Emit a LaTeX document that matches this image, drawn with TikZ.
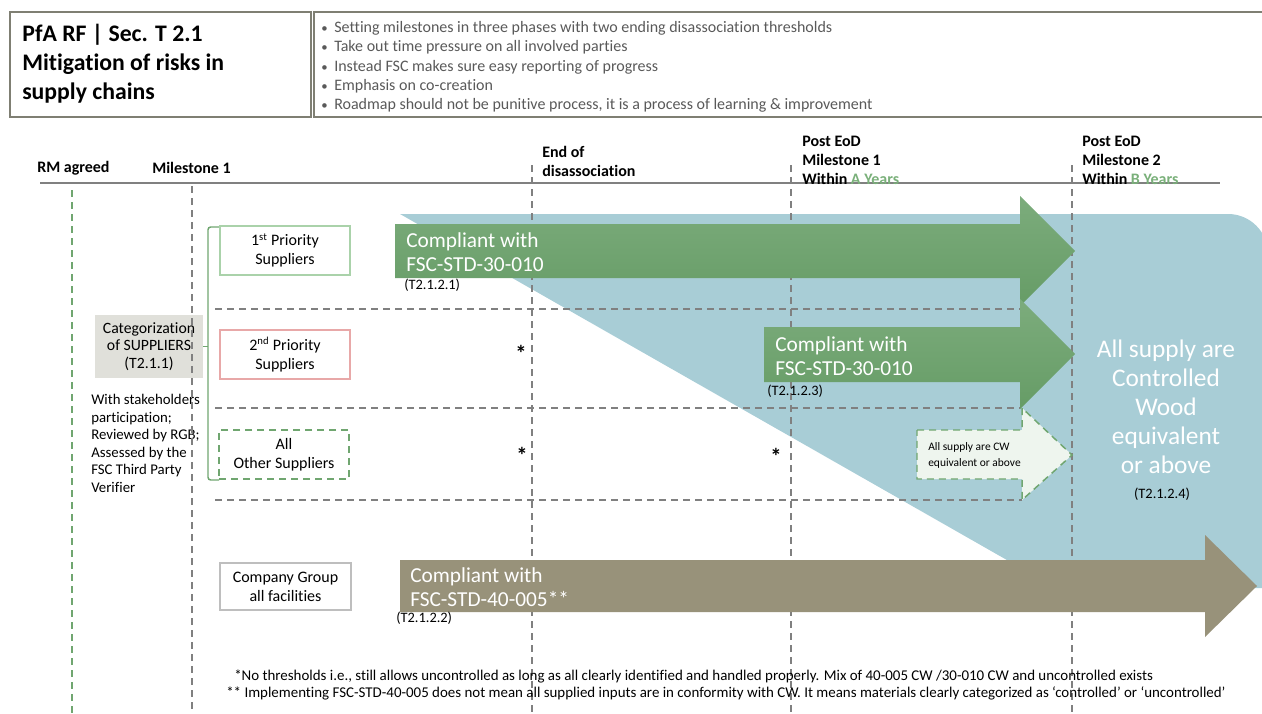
\documentclass[tikz,border=0pt]{standalone}
\usepackage{fontspec}
\setmainfont{Carlito}[Ligatures=NoCommon]
\usepackage{tikz}
\usetikzlibrary{positioning}

\definecolor{framegray}{RGB}{127,127,115}
\definecolor{dashgray}{RGB}{128,128,128}
\definecolor{notegray}{RGB}{89,89,89}
\definecolor{yeargreen}{RGB}{122,176,122}
\definecolor{brkgreen}{RGB}{112,166,112}
\definecolor{cwblue}{RGB}{168,205,214}
\definecolor{arrowtop}{RGB}{124,172,124}
\definecolor{arrowbot}{RGB}{102,156,102}
\definecolor{groupkhaki}{RGB}{152,146,122}
\definecolor{catfill}{RGB}{224,224,218}
\definecolor{firstline}{RGB}{170,210,170}
\definecolor{secondline}{RGB}{232,168,168}
\definecolor{groupline}{RGB}{190,190,190}
\definecolor{palegreen}{RGB}{238,245,238}

\newcommand{\bul}{\makebox[9.75pt][l]{\scalebox{0.8}{\textbullet}}}

\begin{document}
\begin{tikzpicture}[x=0.75pt,y=-0.75pt,every node/.style={inner sep=0pt},
    frameline/.style={framegray,line width=1.5pt},
    milestone/.style={font=\bfseries\fontsize{12}{14.25}\selectfont,align=left,anchor=west},
    divider/.style={dashgray,line width=1.1pt,dash pattern=on 5.25pt off 3.75pt},
    greendiv/.style={brkgreen,line width=1.1pt,dash pattern=on 5.25pt off 3.75pt},
    supplier/.style={draw,line width=1.1pt,fill=white,minimum width=97.5pt,minimum height=36.75pt,
      align=center,font=\fontsize{12}{14.25}\selectfont},
    greenarrow/.style={top color=arrowtop,bottom color=arrowbot},
    arrowtext/.style={white,anchor=west,align=left,font=\fontsize{16}{18}\selectfont},
    tref/.style={anchor=west,font=\fontsize{10.8}{12}\selectfont},
    star/.style={font=\bfseries\fontsize{17}{17}\selectfont}]
  \useasboundingbox (0,0) rectangle (1262,713);
  \clip (0,0) rectangle (1262,713);

  \draw[frameline] (10,12) rectangle (311,117);
  \draw[frameline] (314,12) rectangle (1270,117);
  \node[anchor=north west,align=left,font=\bfseries\fontsize{17.8}{21.75}\selectfont] (title) at (22,24)
    {PfA RF | Sec. T 2.1\\Mitigation of risks in\\supply chains};
  \node[anchor=north west,align=left,text=notegray,font=\fontsize{12}{14.55}\selectfont] (notes) at (321,21)
    {\bul Setting milestones in three phases with two ending disassociation thresholds\\
     \bul Take out time pressure on all involved parties\\
     \bul Instead FSC makes sure easy reporting of progress\\
     \bul Emphasis on co-creation\\
     \bul Roadmap should not be punitive process, it is a process of learning \& improvement};

  \fill[cwblue] (400,214) {[rounded corners=30pt] -- (1268,214) -- (1268,400)} -- (1268,588) -- (1056,588) -- cycle;

  \draw[dashgray,line width=1.5pt] (40,183) -- (1220,183);
  \node[milestone] (rm) at (37,168) {RM agreed};
  \node[milestone] (ms1) at (152,168) {Milestone 1};
  \node[milestone] (eod) at (542,161) {End of\\disassociation};
  \node[milestone] (post1) at (802,160) {Post EoD\\Milestone 1\\Within \textcolor{yeargreen}{A Years}};
  \node[milestone] (post2) at (1082,160) {Post EoD\\Milestone 2\\Within \textcolor{yeargreen}{B Years}};

  \node[fill=catfill,minimum width=81pt,minimum height=47.25pt,align=center,
    font=\fontsize{11.8}{13}\selectfont] (cat) at (149,346.5) {Categorization\\of SUPPLIERS\\(T2.1.1)};
  \node[anchor=north west,align=left,font=\fontsize{11.1}{13.2}\selectfont] (review) at (91,394)
    {With stakeholders\\participation;\\Reviewed by RGB;\\Assessed by the\\FSC Third Party\\Verifier};

  \draw[greendiv] (72,190) -- (72,713);
  \draw[divider] (192,186) -- (192,713);
  \draw[divider] (532,165) -- (532,713);
  \draw[divider] (791,165) -- (791,713);
  \draw[divider] (1072,165) -- (1072,713);
  \draw[divider] (215,309) -- (1020,309);
  \draw[divider] (215,408) -- (1020,408);
  \draw[divider] (215,500) -- (1022,500);

  \draw[brkgreen,line width=1.1pt,rounded corners=2pt] (219,227) -| (208,480) -- (219,480);
  \draw[brkgreen,line width=1.1pt] (cat.east) -- (208,346.5);

  \node[supplier,draw=firstline] (prio1) at (285,250.5) {1\textsuperscript{st} Priority\\Suppliers};
  \node[supplier,draw=secondline] (prio2) at (285,354.5) {2\textsuperscript{nd} Priority\\Suppliers};
  \node[supplier,draw=brkgreen,dash pattern=on 5.25pt off 3.75pt] (others) at (284,454.5) {All\\Other Suppliers};
  \node[supplier,draw=groupline,minimum width=98.25pt,minimum height=35.25pt] (group) at (285.5,586.5) {Company Group\\all facilities};

  \path[greenarrow] (395,224) -- (1020,224) -- (1020,196) -- (1075,251) -- (1020,306) -- (1020,278) -- (395,278) -- cycle;
  \path[greenarrow] (764,327) -- (1020,327) -- (1020,299) -- (1075,354) -- (1020,409) -- (1020,382) -- (764,382) -- cycle;
  \draw[brkgreen,fill=palegreen,line width=1.1pt,dash pattern=on 5.25pt off 3.75pt]
    (917,430) -- (1022,430) -- (1022,408) -- (1072,455) -- (1022,500) -- (1022,479) -- (917,479) -- cycle;
  \fill[groupkhaki] (400,560) -- (1205,560) -- (1205,535) -- (1257,586) -- (1205,637) -- (1205,612) -- (400,612) -- cycle;

  \node[arrowtext] (std1) at (406,252) {Compliant with\\FSC-STD-30-010};
  \node[arrowtext] (std2) at (775,356) {Compliant with\\FSC-STD-30-010};
  \node[arrowtext] (std3) at (410,587) {Compliant with\\FSC-STD-40-005**};
  \node[anchor=west,align=left,font=\fontsize{8.6}{12}\selectfont] (cwsmall) at (928,455) {All supply are CW\\equivalent or above};
  \node[white,align=center,font=\fontsize{19}{21.75}\selectfont] (allcw) at (1166,407)
    {All supply are\\Controlled\\Wood\\equivalent\\or above};

  \node[tref] (t1) at (404,285) {(T2.1.2.1)};
  \node[tref] (t3) at (767,391) {(T2.1.2.3)};
  \node[tref] (t2) at (396,618) {(T2.1.2.2)};
  \node[font=\fontsize{10.8}{12}\selectfont] (t4) at (1162,494) {(T2.1.2.4)};

  \node[star] (s1) at (521,353) {*};
  \node[star] (s2) at (522,455) {*};
  \node[star] (s3) at (776,456) {*};

  \node[anchor=west,align=left,font=\fontsize{11.2}{12.75}\selectfont] (foot) at (226,685)
    {\hspace{6pt}*No thresholds i.e., still allows uncontrolled as long as all clearly identified and handled properly. Mix of 40-005 CW /30-010 CW and uncontrolled exists\\
     ** Implementing FSC-STD-40-005 does not mean all supplied inputs are in conformity with CW. It means materials clearly categorized as ‘controlled’ or ‘uncontrolled’};
\end{tikzpicture}
\end{document}
